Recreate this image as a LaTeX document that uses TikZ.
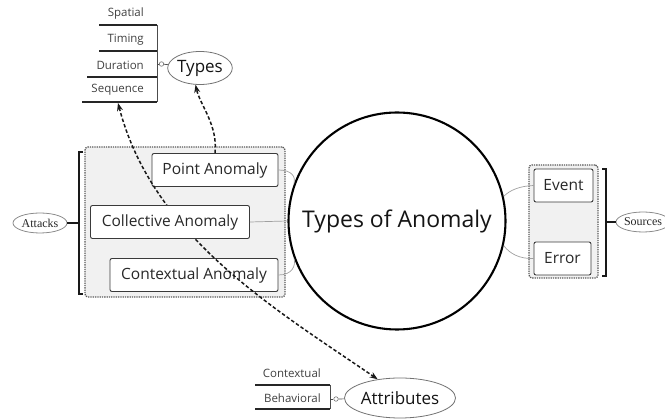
\documentclass[tikz,border=0pt]{standalone}
\usepackage{fontspec}
\setmainfont{Open Sans}
\newfontfamily\tnr{Liberation Serif}
\usetikzlibrary{shapes.geometric,arrows.meta}
\definecolor{boxline}{HTML}{3A3A3A}
\definecolor{boxtext}{HTML}{282828}
\definecolor{grpfill}{HTML}{F1F1F1}
\definecolor{linkgray}{HTML}{A0A0A0}
\definecolor{itemtext}{HTML}{404040}
\begin{document}
\begin{tikzpicture}[x=1pt,y=-1pt,
  box/.style={draw=boxline, fill=white, rounded corners=2pt, line width=0.9pt,
    minimum height=33pt, inner sep=2pt, text=boxtext, font=\fontsize{15.5}{18}\selectfont},
  grp/.style={draw=black!65, densely dotted, line width=1.3pt, fill=grpfill, rounded corners=3pt,
    inner sep=0pt},
  mainc/.style={circle, draw=black, line width=2.1pt, minimum size=217pt, inner sep=0pt,
    text=black!92, font=\fontsize{23}{27}\selectfont},
  link/.style={draw=linkgray, line width=0.7pt},
  brk/.style={line width=2pt, black!90},
  bigell/.style={ellipse, draw=black!55, line width=0.8pt, fill=white, inner sep=0pt,
    text=black!92, font=\fontsize{17}{20}\selectfont},
  smell/.style={ellipse, draw=black!45, line width=0.8pt, inner sep=0pt,
    text=black!85, font=\tnr\fontsize{12}{14}\selectfont},
  item/.style={anchor=east, inner sep=0pt, text=itemtext, font=\fontsize{11.5}{13}\selectfont},
  under/.style={line width=1.6pt, black!85},
  thinl/.style={line width=0.7pt, black!70},
  smallc/.style={circle, draw=black!55, line width=0.6pt, fill=white, minimum size=4.5pt, inner sep=0pt},
  dasharrow/.style={dash pattern=on 3.5pt off 2.2pt, line width=1.5pt, black!90},
  tip/.tip={Stealth[length=8pt,width=6pt]},
]
\useasboundingbox (0,0) rectangle (665,419);

% group backgrounds
\node[grp, minimum width=200pt, minimum height=150pt] (lgrp) at (185,222) {};
\node[grp, minimum width=69pt, minimum height=113pt] (rgrp) at (563.5,221.5) {};

% central circle
\node[mainc] (main) at (397,221) {Types of Anomaly};

% left boxes
\node[box, minimum width=126pt] (point) at (215,170) {Point Anomaly};
\node[box, minimum width=168pt] (context) at (194,275) {Contextual Anomaly};

% attributes
\node[bigell, minimum width=108pt, minimum height=40pt] (attr) at (400,398) {Attributes};

% long dashed double arrow
\coordinate (seqend) at (118,103);
\draw[dasharrow, tip-tip] (seqend) .. controls (153,237) and (275,309) .. (attr.140);

\node[box, minimum width=159pt] (coll) at (170,222) {Collective Anomaly};

% right boxes
\node[box, minimum width=59pt] (event) at (563.5,185.5) {Event};
\node[box, minimum width=57pt] (error) at (562.5,258.5) {Error};

% gray links to circle
\draw[link] (point.east) .. controls (292,170) and (296,177) .. (main.160);
\draw[link] (coll.east) -- (main.west);
\draw[link] (context.east) .. controls (292,275) and (296,266) .. (main.200);
\draw[link] (event.west) .. controls (520,186) and (510,190) .. (main.13);
\draw[link] (error.west) .. controls (520,259) and (510,254) .. (main.347);

% brackets
\coordinate (lbr) at (79,223);
\coordinate (rbr) at (606,222);
\draw[brk] (83,152) -- (79,152) -- (79,294) -- (83,294);
\draw[brk] (602,169) -- (606,169) -- (606,276) -- (602,276);
\node[smell, minimum width=54pt, minimum height=20pt] (attacks) at (40,223) {Attacks};
\node[smell, minimum width=54pt, minimum height=20pt] (sources) at (643,222) {Sources};
\draw[brk] (attacks.east) -- (lbr);
\draw[brk] (rbr) -- (sources.west);

% Types
\node[bigell, minimum width=64pt, minimum height=33pt] (types) at (200,68) {Types};
\node[item] (spatial) at (144,14) {Spatial};
\node[item] (timing) at (144,40) {Timing};
\node[item] (duration) at (144,65) {Duration};
\node[item] (sequence) at (144,90) {Sequence};
\draw[under] (99,25) -- (157,25);
\draw[under] (99,51) -- (157,51);
\draw[under] (87,77) -- (157,77);
\draw[under] (82,102) -- (157,102);
\draw[thinl] (157,25) -- (157,102);
\node[smallc] (tc) at (161.5,64) {};
\draw[thinl] (157,64) -- (tc);
\draw[thinl] (tc) -- (types);

% Attributes list
\node[item] (contextual) at (321,373) {Contextual};
\node[item] (behavioral) at (321,398) {Behavioral};
\draw[under] (255,385) -- (330,385);
\draw[under] (255,409) -- (330,409);
\draw[thinl] (330,385) -- (330,409);
\node[smallc] (ac) at (336,399) {};
\draw[thinl] (330,399) -- (ac);
\draw[thinl] (ac) -- (attr);

% Types arrow
\draw[dasharrow, -tip] (point.north) .. controls (218,125) and (200,105) .. (types.255);
\end{tikzpicture}
\end{document}
